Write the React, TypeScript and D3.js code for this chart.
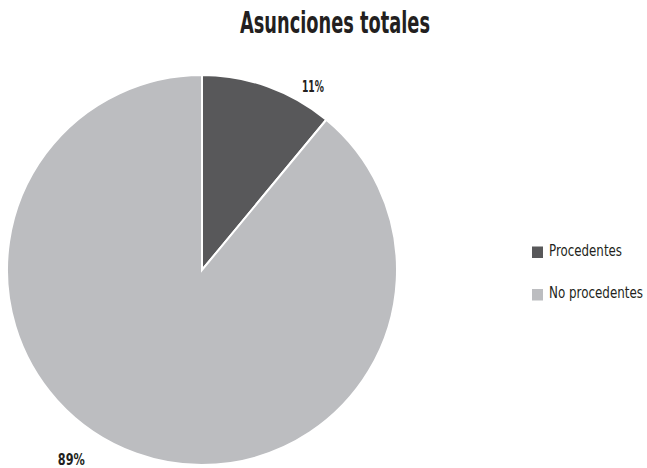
import React from 'react';
import * as d3 from 'd3';

const categories = ['Procedentes', 'No procedentes'];
const values = [11, 89];
const valueLabels = ['11%', '89%'];
const colors = ['#58585a', '#bcbdc0'];

const W = 647;
const H = 468;
const FONT = '"Liberation Sans Narrow", "DejaVu Sans Condensed", "Roboto", sans-serif';
const SQUEEZE = 0.77; // horizontal squeeze to fake a condensed face

const App: React.FC = () => {
  const cx = 202;
  const cy = 270;
  const r = 195;

  const pie = d3.pie<number>().sort(null).value(d => d);
  const arcs = pie(values);
  const arc = d3.arc<d3.PieArcDatum<number>>().innerRadius(0).outerRadius(r);

  // labels sit outside the rim, like the original
  const labelAngles = [0.545, 3.743];
  const labelDist = [r + 19, r + 36];
  const labelWidths = [22, 27];

  const legendY = d3.scalePoint<string>().domain(categories).range([252.5, 295]);
  const legendWidths = [73, 94];

  return (
    <svg width={W} height={H} style={{ position: 'absolute', left: 0, top: 0, background: '#fff' }}>
      <text
        x={335}
        y={33}
        textAnchor="middle"
        fontFamily={FONT}
        fontWeight="bold"
        fontSize={31}
        fill="#231f20"
        textLength={190}
        lengthAdjust="spacingAndGlyphs"
      >
        Asunciones totales
      </text>
      <g transform={`translate(${cx},${cy})`}>
        {arcs.map((a, i) => (
          <path key={categories[i]} d={arc(a) || ''} fill={colors[i]} stroke="#fff" strokeWidth={2} />
        ))}
        {arcs.map((a, i) => (
          <text
            key={'l' + i}
            x={labelDist[i] * Math.sin(labelAngles[i])}
            y={-labelDist[i] * Math.cos(labelAngles[i]) + 5}
            textAnchor="middle"
            fontFamily={FONT}
            fontWeight="bold"
            fontSize={15}
            fill="#231f20"
            textLength={labelWidths[i]}
            lengthAdjust="spacingAndGlyphs"
          >
            {valueLabels[i]}
          </text>
        ))}
      </g>
      <g>
        {categories.map((c, i) => (
          <g key={c} transform={`translate(532,${legendY(c)})`}>
            <rect x={0} y={-6} width={11} height={11.5} fill={colors[i]} />
            <g transform={`translate(17,3) scale(${SQUEEZE},1)`}>
              <text
                x={0}
                y={0}
                fontFamily={FONT}
                fontSize={15.5}
                fill="#231f20"
                textLength={legendWidths[i] / SQUEEZE}
                lengthAdjust="spacingAndGlyphs"
              >
                {c}
              </text>
            </g>
          </g>
        ))}
      </g>
    </svg>
  );
};

export default App;
